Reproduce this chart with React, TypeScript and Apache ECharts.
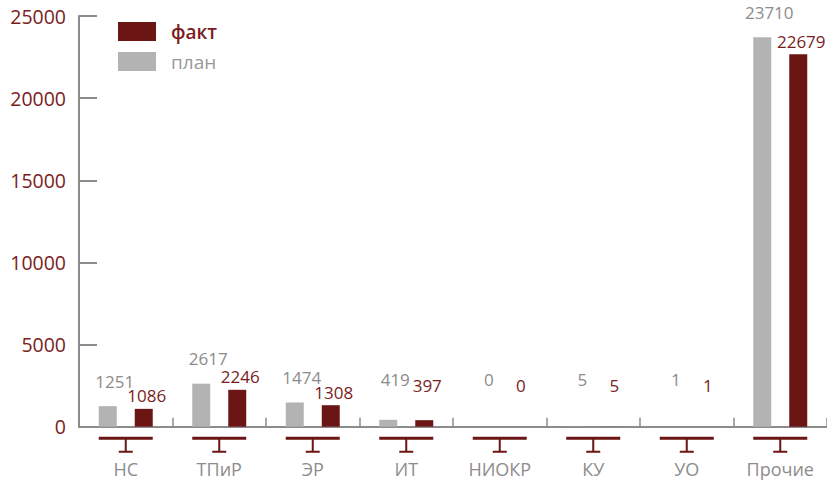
import React, { useEffect, useRef } from "react";
import * as echarts from "echarts";

const categories = ["НС", "ТПиР", "ЭР", "ИТ", "НИОКР", "КУ", "УО", "Прочие"];
const planValues = [1251, 2617, 1474, 419, 0, 5, 1, 23710];
const factValues = [1086, 2246, 1308, 397, 0, 5, 1, 22679];
const yTicks = { min: 0, max: 25000, interval: 5000 };
const legendNames = ["факт", "план"];

const RED = "#6b1515";
const RED_TEXT = "#7a1c1c";
const GRAY_BAR = "#b3b3b3";
const GRAY_TEXT = "#8c8c8c";
const AXIS = "#8c8c8c";
const FONT = "'Open Sans', 'Noto Sans', sans-serif";

const GRID_TOP = 16;
const GRID_BOTTOM = 53.3;
const PLOT_H = 480 - GRID_TOP - GRID_BOTTOM;

const barPx = (v: number) => (v / yTicks.max) * PLOT_H;
// small bars carry their labels at a fixed height above the axis
const labelDistance = (v: number, normal: number, raised: number) => {
  const h = barPx(v);
  return h < 10 ? raised - h : normal;
};

export default function App() {
  const ref = useRef<HTMLDivElement>(null);
  useEffect(() => {
    if (!ref.current) return;
    const chart = echarts.init(ref.current, undefined, { renderer: "svg" });
    const planData = planValues.map((v) => ({
      value: v,
      label: { distance: labelDistance(v, 18, 40) },
    }));
    const factData = factValues.map((v) => ({
      value: v,
      label: { distance: labelDistance(v, 6, 34) },
    }));
    chart.setOption({
      animation: false,
      textStyle: { fontFamily: FONT },
      grid: { left: 79, top: GRID_TOP, width: 751, bottom: GRID_BOTTOM, containLabel: false },
      legend: {
        orient: "vertical",
        left: 118,
        top: 22,
        padding: 0,
        itemWidth: 38,
        itemHeight: 19,
        itemGap: 11,
        icon: "rect",
        selectedMode: false,
        textStyle: { fontSize: 19, fontFamily: FONT, padding: [0, 0, 0, 10], color: GRAY_TEXT },
        data: [
          { name: legendNames[0], textStyle: { color: RED_TEXT, fontWeight: 600 } },
          { name: legendNames[1], textStyle: { color: "#999999" } },
        ],
      },
      xAxis: {
        type: "category",
        data: categories,
        axisLine: { show: true, lineStyle: { color: AXIS, width: 2 } },
        axisTick: { show: true, inside: true, length: 9, interval: 0, lineStyle: { color: AXIS, width: 1.5 } },
        axisLabel: { color: GRAY_TEXT, fontSize: 18, margin: 33, interval: 0, fontFamily: FONT },
        splitLine: { show: false },
      },
      yAxis: {
        type: "value",
        min: yTicks.min,
        max: yTicks.max,
        interval: yTicks.interval,
        axisLine: { show: true, lineStyle: { color: AXIS, width: 2 } },
        axisTick: { show: true, inside: true, length: 18, lineStyle: { color: AXIS, width: 2 } },
        axisLabel: { color: RED_TEXT, fontSize: 19.5, margin: 13, fontFamily: FONT, formatter: (v: number) => String(v) },
        splitLine: { show: false },
      },
      series: [
        {
          name: "план",
          type: "bar",
          data: planData,
          barWidth: 18,
          barGap: "100%",
          itemStyle: { color: GRAY_BAR },
          label: {
            show: true,
            position: "top",
            offset: [7, 0],
            color: GRAY_TEXT,
            fontSize: 17,
            lineHeight: 14,
            fontFamily: FONT,
          },
        },
        {
          name: "факт",
          type: "bar",
          data: factData,
          barWidth: 18,
          barGap: "100%",
          itemStyle: { color: RED },
          label: {
            show: true,
            position: "top",
            offset: [3, 0],
            color: RED_TEXT,
            fontSize: 17,
            lineHeight: 14,
            fontFamily: FONT,
          },
        },
        {
          name: "marker",
          type: "scatter",
          data: categories.map(() => 0),
          symbol: "path://M0,0H54V3H28V14H34V16H20V14H26V3H0Z",
          symbolSize: [54, 16],
          symbolOffset: [0, 18],
          itemStyle: { color: RED, opacity: 1 },
          silent: true,
          clip: false,
          z: 1,
        },
      ],
    });
    return () => chart.dispose();
  }, []);
  return (
    <div
      ref={ref}
      style={{ position: "absolute", left: 0, top: 0, width: 827, height: 480, background: "#fff" }}
    />
  );
}
